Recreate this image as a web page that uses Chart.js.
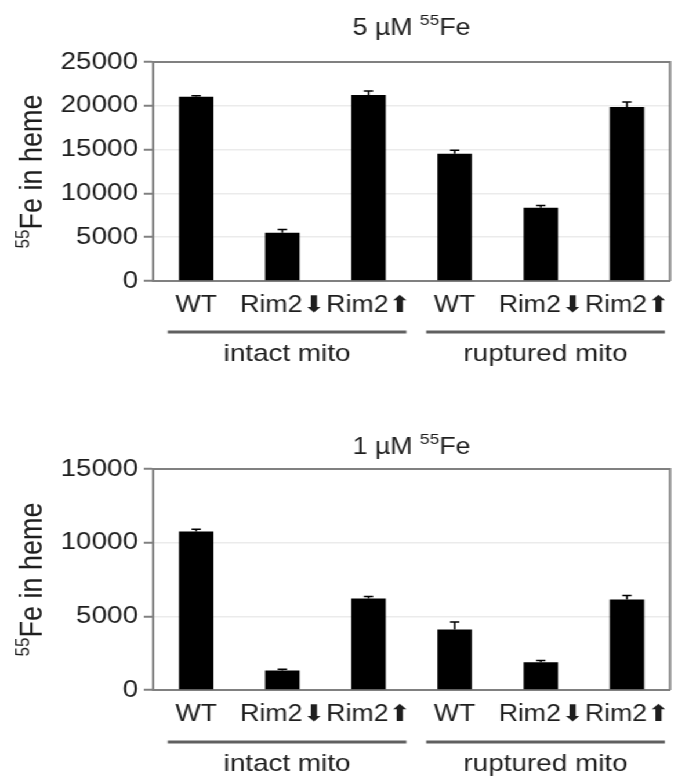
<!DOCTYPE html>
<html>
<head>
<meta charset="utf-8">
<script src="https://cdn.jsdelivr.net/npm/chart.js@4.4.1/dist/chart.umd.min.js"></script>
<style>
  html, body { margin: 0; padding: 0; background: #fff; overflow: hidden; }
  /* la figura original esta estirada a lo ancho */
  #contenedor { position: relative; width: 588px; height: 777px; transform: scaleX(1.16); transform-origin: 0 0; }
  canvas { position: absolute; left: 0; }
</style>
</head>
<body>
<div id="contenedor">
  <canvas id="chartAlto" width="588" height="388" style="top:0"></canvas>
  <canvas id="chartBajo" width="588" height="389" style="top:388px"></canvas>
</div>
<script>
/* Datos */
const categorias = ["WT", "Rim2\u2B07", "Rim2\u2B06", "WT", "Rim2\u2B07", "Rim2\u2B06"];
const grupos = ["intact mito", "ruptured mito"];

const hemo5 = [21040, 5500, 21230, 14540, 8350, 19860];
const error5 = [120, 380, 450, 380, 270, 560];
const ticks5 = [0, 5000, 10000, 15000, 20000, 25000];

const hemo1 = [10760, 1330, 6210, 4100, 1890, 6140];
const error1 = [150, 70, 140, 520, 110, 270];
const ticks1 = [0, 5000, 10000, 15000];

const FUENTE = "'Liberation Sans', Arial, sans-serif";
const GRIS = "#808080";
const TEXTO = "#1e1e1e";

// dibuja texto con superindice, centrado en x
const textoSuper = (ctx, partes, x, y, tam, tamSup, subir) => {
  const normal = `${tam}px ${FUENTE}`;
  const chico = `${tamSup}px ${FUENTE}`;
  let total = 0;
  partes.forEach((p) => {
    ctx.font = p.sup ? chico : normal;
    total += ctx.measureText(p.t).width;
  });
  let cx = x - total / 2;
  ctx.textAlign = "left";
  ctx.textBaseline = "middle";
  ctx.fillStyle = TEXTO;
  partes.forEach((p) => {
    ctx.font = p.sup ? chico : normal;
    ctx.fillText(p.t, cx, p.sup ? y - subir : y);
    cx += ctx.measureText(p.t).width;
  });
};

const pluginExtras = {
  id: "extras",
  afterDraw: (chart, args, opts) => {
    const ctx = chart.ctx;
    const area = chart.chartArea;
    const escalaX = chart.scales.x;
    const escalaY = chart.scales.y;

    ctx.save();
    // marco superior y derecho
    ctx.strokeStyle = GRIS;
    ctx.lineWidth = 2;
    ctx.beginPath();
    ctx.moveTo(area.left, area.top);
    ctx.lineTo(area.right, area.top);
    ctx.lineTo(area.right, area.bottom);
    ctx.stroke();

    // barras de error
    const meta = chart.getDatasetMeta(0);
    ctx.strokeStyle = "#000";
    ctx.lineWidth = 1.5;
    meta.data.forEach((barra, i) => {
      const yTope = escalaY.getPixelForValue(opts.valores[i] + opts.errores[i]);
      ctx.beginPath();
      ctx.moveTo(barra.x, barra.y);
      ctx.lineTo(barra.x, yTope);
      ctx.moveTo(barra.x - 4, yTope);
      ctx.lineTo(barra.x + 4, yTope);
      ctx.stroke();
    });

    // titulo
    textoSuper(ctx, opts.titulo, (area.left + area.right) / 2, opts.tituloY, 23, 15, 8);

    // titulo eje y, rotado
    ctx.save();
    ctx.translate(opts.ejeYX, (area.top + area.bottom) / 2);
    ctx.rotate(-Math.PI / 2);
    textoSuper(ctx, [{ t: "55", sup: true }, { t: "Fe in heme" }], 0, 0, 27, 17, 9);
    ctx.restore();

    // grupos
    const ancho = (escalaX.right - escalaX.left) / categorias.length;
    grupos.forEach((nombre, g) => {
      const x1 = escalaX.getPixelForValue(g * 3) - 0.33 * ancho;
      const x2 = escalaX.getPixelForValue(g * 3 + 2) + 0.44 * ancho;
      ctx.strokeStyle = "#606060";
      ctx.lineWidth = 3;
      ctx.beginPath();
      ctx.moveTo(x1, opts.lineaY);
      ctx.lineTo(x2, opts.lineaY);
      ctx.stroke();
      ctx.font = `24px ${FUENTE}`;
      ctx.fillStyle = TEXTO;
      ctx.textAlign = "center";
      ctx.textBaseline = "middle";
      ctx.fillText(nombre, (x1 + x2) / 2, opts.grupoY);
    });
    ctx.restore();
  },
};

const crearGrafica = (canvas, valores, errores, marcas, config) => {
  const altoCanvas = canvas.height;
  return new Chart(canvas.getContext("2d"), {
    type: "bar",
    data: {
      labels: categorias,
      datasets: [
        {
          data: valores,
          backgroundColor: "#000",
          borderWidth: 0,
          barPercentage: 0.4,
          categoryPercentage: 1.0,
        },
      ],
    },
    options: {
      responsive: false,
      animation: false,
      layout: { padding: { top: config.arriba, right: 2, left: 0, bottom: 0 } },
      plugins: {
        legend: { display: false },
        tooltip: { enabled: false },
        extras: {
          valores: valores,
          errores: errores,
          titulo: config.titulo,
          tituloY: config.tituloY,
          ejeYX: 29,
          lineaY: config.lineaY,
          grupoY: config.grupoY,
        },
      },
      scales: {
        x: {
          grid: { display: false, drawTicks: false },
          border: { display: true, color: GRIS, width: 2 },
          ticks: { color: TEXTO, font: { family: FUENTE, size: 23 }, padding: 11, maxRotation: 0, autoSkip: false },
          afterFit: (escala) => { escala.height = altoCanvas - config.abajo; },
        },
        y: {
          min: 0,
          max: marcas[marcas.length - 1],
          afterBuildTicks: (escala) => { escala.ticks = marcas.map((v) => ({ value: v })); },
          grid: { color: "#ebebeb", lineWidth: 1.5, tickColor: GRIS, tickLength: 8, tickWidth: 2 },
          border: { color: GRIS, width: 2 },
          ticks: {
            color: TEXTO,
            font: { family: FUENTE, size: 24 },
            padding: 5,
            callback: (valor) => String(valor),
          },
          afterFit: (escala) => { escala.width = 132; },
        },
      },
    },
    plugins: [pluginExtras],
  });
};

const chartAlto = crearGrafica(document.getElementById("chartAlto"), hemo5, error5, ticks5, {
  titulo: [{ t: "5 \u00B5M " }, { t: "55", sup: true }, { t: "Fe" }],
  tituloY: 29,
  arriba: 62,
  abajo: 281,
  lineaY: 332,
  grupoY: 354,
});

const chartBajo = crearGrafica(document.getElementById("chartBajo"), hemo1, error1, ticks1, {
  titulo: [{ t: "1 \u00B5M " }, { t: "55", sup: true }, { t: "Fe" }],
  tituloY: 60,
  arriba: 81,
  abajo: 302,
  lineaY: 354,
  grupoY: 376,
});
</script>
</body>
</html>
